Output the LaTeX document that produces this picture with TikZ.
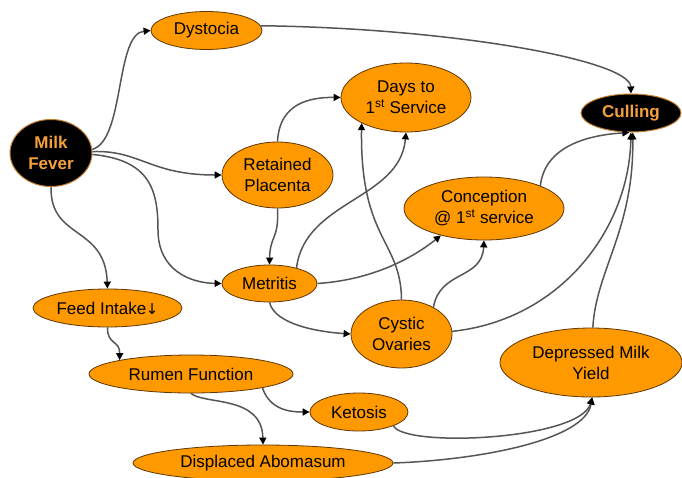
\documentclass[tikz,border=0pt]{standalone}
\usepackage{fontspec}
\setmainfont{Liberation Sans}
\newfontfamily\arrowfont{DejaVu Sans}
\usetikzlibrary{shapes.geometric,arrows.meta}
\definecolor{nodeor}{RGB}{255,153,0}
\definecolor{nodeedge}{RGB}{95,55,0}
\definecolor{linegray}{RGB}{85,85,85}
\definecolor{txtor}{RGB}{245,160,60}
\tikzset{
  onode/.style={ellipse,fill=nodeor,draw=nodeedge,line width=0.8pt,inner sep=0pt,align=center,
    font=\fontsize{17}{21}\selectfont,text=black},
  bnode/.style={ellipse,fill=black,draw=txtor!80!black,line width=1pt,inner sep=0pt,align=center,
    font=\fontsize{17}{21}\selectfont\bfseries,text=txtor},
  link/.style={draw=linegray,line width=1.5pt,-{Triangle[length=7pt,width=7pt,color=black]}},
}
\begin{document}
\begin{tikzpicture}[x=1pt,y=-1pt]
\useasboundingbox (0,0) rectangle (682,477);
% nodes
\node[bnode,minimum width=82pt,minimum height=67pt] (mf) at (51,153) {Milk\\Fever};
\node[onode,minimum width=111pt,minimum height=38pt] (dys) at (206.5,30.5) {Dystocia};
\node[onode,minimum width=130pt,minimum height=69pt] (days) at (406,97.5) {Days to\\1\textsuperscript{st} Service};
\node[bnode,minimum width=100pt,minimum height=38pt] (cull) at (631,113) {Culling};
\node[onode,minimum width=111pt,minimum height=66pt] (rp) at (277.5,175) {Retained\\Placenta};
\node[onode,minimum width=160pt,minimum height=63pt] (conc) at (484,208.5) {Conception\\@ 1\textsuperscript{st} service};
\node[onode,minimum width=95pt,minimum height=37pt] (met) at (269.5,283.5) {Metritis};
\node[onode,minimum width=149pt,minimum height=38pt] (fi) at (107.5,308) {Feed Intake\kern-0.5pt{\arrowfont\fontsize{15}{15}\selectfont ↓}};
\node[onode,minimum width=101pt,minimum height=68pt] (co) at (401.5,334) {Cystic\\Ovaries};
\node[onode,minimum width=182pt,minimum height=69pt] (dmy) at (591,362.5) {Depressed Milk\\Yield};
\node[onode,minimum width=204pt,minimum height=38pt] (rf) at (191,374) {Rumen Function};
\node[onode,minimum width=98pt,minimum height=38pt] (ket) at (359,412) {Ketosis};
\node[onode,minimum width=260pt,minimum height=36pt] (da) at (263,463) {Displaced Abomasum};
% connectors
\draw[link] (mf.5) .. controls (125,140) and (115,34) .. (dys.west);
\draw[link] (mf.2) .. controls (140,150) and (150,175) .. (rp.west);
\draw[link] (mf.-2) .. controls (150,160) and (158,190) .. (158,230) .. controls (158,270) and (190,283) .. (met.west);
\draw[link] (mf.south) .. controls (50,240) and (105,225) .. (fi.north);
\draw[link] (dys.5) .. controls (450,28) and (630,60) .. (cull.north);
\draw[link] (rp.north) .. controls (279,110) and (300,97) .. (days.west);
\draw[link] (rp.south) .. controls (279,240) and (270,235) .. (met.north);
\draw[link] (met.30) .. controls (305,200) and (400,200) .. (days.-90);
\draw[link] (met.east) .. controls (370,280) and (410,260) .. (conc.212);
\draw[link] (met.-90) .. controls (275,325) and (320,332) .. (co.west);
\draw[link] (co.north) .. controls (401,240) and (360,240) .. (days.210);
\draw[link] (co.40) .. controls (440,270) and (482,280) .. (conc.south);
\draw[link] (co.3) .. controls (560,320) and (629,230) .. (cull.-90);
\draw[link] (conc.22) .. controls (545,145) and (590,135) .. (cull.-95);
\draw[link] (dmy.87) .. controls (596,270) and (634,230) .. (cull.-85);
\draw[link] (fi.south) .. controls (107,345) and (120,340) .. (rf.169);
\draw[link] (rf.-90) .. controls (205,405) and (262,395) .. (da.north);
\draw[link] (rf.-11) .. controls (270,410) and (290,412) .. (ket.west);
\draw[link] (ket.-22) .. controls (405,448) and (580,440) .. (dmy.-88);
\draw[link] (da.east) .. controls (480,460) and (585,440) .. (dmy.-88);
\end{tikzpicture}
\end{document}
